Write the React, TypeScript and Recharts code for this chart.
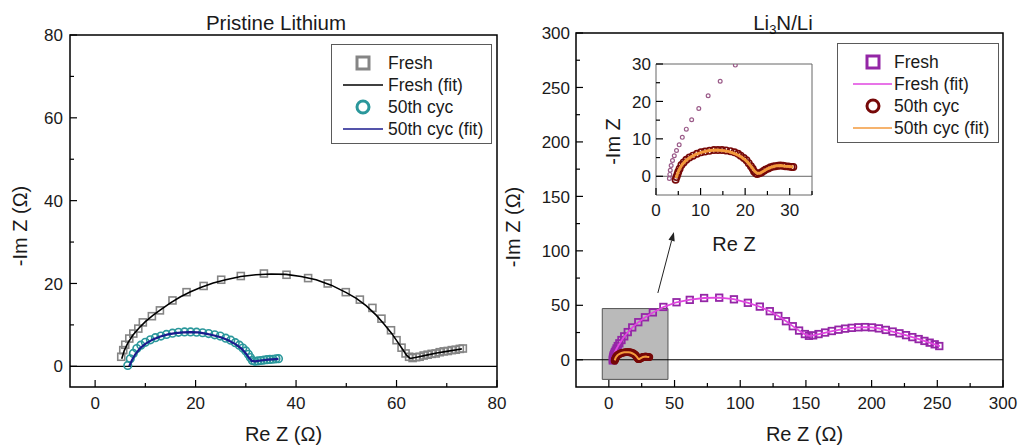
import React from 'react';
import { ScatterChart, Scatter, XAxis, YAxis, ReferenceLine, ReferenceArea } from 'recharts';

const FONT = '"Liberation Sans", Arial, sans-serif';
const INK = '#1a1a1a';

// Pristine Lithium panel
const pFreshX = [5.2, 5.6, 6.0, 6.8, 7.6, 8.6, 9.5, 11.3, 12.9, 15.4, 18.2, 21.6, 25.1, 29.0, 33.6, 38.1, 42.4, 46.3, 49.9, 52.7, 55.2, 57.0, 58.9, 60.0, 61.0, 61.8, 62.5, 63.2, 63.9, 64.6, 65.4, 66.2, 67.0, 67.8, 68.6, 69.4, 70.2, 71.0, 71.8, 72.6, 73.2];
const pFreshY = [2.3, 3.9, 5.2, 6.7, 7.9, 9.1, 10.6, 12.1, 13.5, 15.9, 17.9, 19.4, 20.9, 21.8, 22.4, 22.1, 21.3, 20.0, 17.9, 16.1, 14.1, 11.5, 8.7, 6.3, 4.5, 3.1, 2.3, 2.0, 2.2, 2.3, 2.6, 2.8, 3.0, 3.1, 3.4, 3.6, 3.7, 3.9, 4.0, 4.2, 4.3];
const pFreshFitX = [5.3, 5.8, 6.5, 7.5, 8.7, 10, 11.5, 13, 15, 17, 19, 21, 23.5, 26, 29, 32, 35, 38, 41, 44, 47, 50, 52, 54, 56, 57.5, 59, 60.2, 61.2, 62.0, 62.7, 64, 66, 68, 70, 72, 73];
const pFreshFitY = [1.8, 3.8, 5.6, 7.5, 9.2, 10.8, 12.3, 13.6, 15.3, 16.8, 18.0, 19.0, 20.1, 20.9, 21.7, 22.1, 22.3, 22.2, 21.7, 20.9, 19.6, 17.8, 16.4, 14.6, 12.3, 10.2, 8.0, 5.9, 4.1, 2.7, 1.9, 2.2, 2.7, 3.2, 3.6, 4.0, 4.2];
const pCycX = [6.5, 7.0, 7.6, 8.3, 9.1, 10.0, 11.0, 12.0, 13.1, 14.2, 15.4, 16.6, 17.8, 19.0, 20.2, 21.4, 22.6, 23.8, 24.9, 26.0, 27.0, 27.9, 28.7, 29.4, 30.0, 30.5, 30.9, 31.3, 31.8, 32.4, 33.0, 33.6, 34.2, 34.8, 35.4, 36.0, 36.5];
const pCycY = [0.2, 1.8, 3.1, 4.3, 5.1, 5.8, 6.4, 6.9, 7.3, 7.7, 8.0, 8.2, 8.3, 8.3, 8.25, 8.1, 7.9, 7.6, 7.3, 6.8, 6.3, 5.7, 5.1, 4.4, 3.7, 2.9, 2.1, 1.4, 1.2, 1.3, 1.4, 1.5, 1.6, 1.65, 1.7, 1.8, 1.85];
const pCycFitX = [6.8, 7.3, 8.0, 9.0, 10, 11.5, 13, 14.5, 16, 17.5, 19, 20.5, 22, 23.5, 25, 26.5, 28, 29.2, 30.0, 30.6, 31.2, 31.8, 33, 34.5, 36, 36.5];
const pCycFitY = [0.0, 1.4, 2.9, 4.4, 5.4, 6.5, 7.2, 7.7, 8.0, 8.2, 8.25, 8.2, 7.9, 7.5, 7.0, 6.3, 5.3, 4.2, 3.1, 2.1, 1.3, 1.2, 1.4, 1.6, 1.75, 1.8];
const pTicks = [0, 10, 20, 30, 40, 50, 60, 70, 80];
const pLabels = [0, 20, 40, 60, 80];

// Li3N/Li panel
const lFreshX = [3.0, 3.1, 3.2, 3.4, 3.7, 4.1, 4.6, 5.2, 5.9, 6.8, 8.0, 9.6, 11.7, 14.4, 17.8, 22.4, 27.5, 33.5, 41.5, 51.5, 61.6, 72.5, 84.0, 95.2, 105.8, 114.9, 122.5, 129.0, 134.8, 140.0, 144.8, 149.2, 152.3, 155.5, 159.6, 164.6, 169.7, 174.8, 179.8, 184.9, 189.9, 195.0, 200.3, 205.5, 210.8, 216.0, 221.2, 226.2, 231.0, 235.8, 240.2, 244.2, 248.0, 251.5];
const lFreshY = [-0.6, 0.5, 1.6, 2.9, 4.2, 5.5, 6.9, 8.4, 10.4, 12.6, 15.1, 18.1, 21.5, 25.4, 29.7, 34.5, 39.0, 43.5, 48.5, 52.8, 55.0, 56.7, 57.0, 55.5, 52.3, 48.8, 44.6, 40.2, 35.4, 30.8, 26.8, 23.6, 22.0, 22.4, 23.6, 25.0, 26.4, 27.6, 28.6, 29.3, 29.8, 30.0, 29.7, 28.8, 27.4, 25.9, 24.3, 22.6, 20.8, 19.0, 17.3, 15.7, 14.2, 12.6];
const lFreshFitX = [3.0, 3.1, 3.3, 3.6, 4.1, 4.8, 5.8, 7.2, 9.0, 11.5, 14.5, 18.0, 22.5, 28, 34, 41.5, 51.5, 62, 72.5, 84, 95, 106, 115, 122.5, 129, 135, 140, 145, 149.5, 152.5, 155.5, 160, 170, 180, 190, 195, 200, 206, 211, 216, 221, 226, 231, 236, 240, 244, 248, 252];
const lFreshFitY = [-0.6, 0.8, 2.3, 3.8, 5.5, 7.4, 9.9, 13.0, 16.4, 20.8, 25.3, 29.8, 34.5, 39.3, 43.6, 48.3, 52.8, 55.2, 56.7, 57.0, 55.6, 52.3, 48.7, 44.6, 40.2, 35.3, 30.9, 26.7, 23.3, 22.0, 22.3, 23.6, 26.4, 28.6, 29.8, 30.0, 29.8, 28.7, 27.3, 25.9, 24.3, 22.6, 20.8, 18.9, 17.3, 15.8, 14.2, 12.5];
const lCycX = [4.4, 4.6, 4.8, 5.0, 5.3, 5.7, 6.2, 6.8, 7.5, 8.3, 9.2, 10.1, 11.0, 12.0, 13.0, 13.9, 14.8, 15.7, 16.7, 17.6, 18.4, 19.0, 19.7, 20.3, 20.8, 21.3, 21.7, 22.0, 22.4, 22.7, 23.2, 23.7, 24.2, 24.6, 25.2, 25.7, 26.3, 26.8, 27.4, 27.9, 28.5, 29.0, 29.7, 30.4, 30.8];
const lCycY = [-0.9, -0.2, 0.5, 1.2, 2.0, 3.0, 3.7, 4.4, 5.0, 5.5, 6.0, 6.4, 6.6, 6.8, 7.0, 7.0, 7.0, 6.9, 6.7, 6.4, 6.0, 5.5, 4.9, 4.3, 3.5, 2.7, 2.0, 1.3, 0.8, 0.6, 0.8, 1.1, 1.5, 1.8, 2.1, 2.4, 2.6, 2.7, 2.8, 2.9, 2.8, 2.7, 2.6, 2.5, 2.5];
const lCycFitX = [4.5, 4.8, 5.2, 5.8, 6.6, 7.6, 8.8, 10.2, 11.7, 13.3, 14.9, 16.4, 17.8, 19.0, 20.0, 20.8, 21.5, 22.1, 22.7, 23.3, 24.0, 25.0, 26.0, 27.0, 28.0, 29.0, 30.0, 30.8];
const lCycFitY = [-0.5, 0.6, 1.8, 3.0, 4.1, 5.0, 5.8, 6.4, 6.8, 7.0, 6.9, 6.6, 6.0, 5.3, 4.4, 3.4, 2.4, 1.4, 0.8, 0.8, 1.3, 2.0, 2.5, 2.8, 2.9, 2.7, 2.6, 2.5];
const lTicks = [0, 25, 50, 75, 100, 125, 150, 175, 200, 225, 250, 275, 300];
const lLabels = [0, 50, 100, 150, 200, 250, 300];

// inset + zoom annotation
const insetXTicks = [0, 5, 10, 15, 20, 25, 30, 35];
const insetYTicks = [0, 5, 10, 15, 20, 25, 30];
const insetLabels = [0, 10, 20, 30];
const zoomBoxX = [-5, 45];
const zoomBoxY = [-18, 47];
const arrowFrom = { x: 37.3, y: 61.3 };
const arrowTo = { x: 49.5, y: 117.4 };

const zip = (xs: number[], ys: number[]) => xs.map((x, i) => ({ x, y: ys[i] }));

const C = {
  gray: '#858585',
  teal: '#2a979b',
  navy: '#1b1b8e',
  purple: '#9426a6',
  magenta: '#e046e0',
  maroon: '#760808',
  orange: '#f39a3c',
};

function xTick(labels: number[], gap = 22) {
  return (props: any) => {
    const { x, y, payload } = props;
    const on = labels.includes(payload.value);
    return (
      <g>
        <line x1={x} x2={x} y1={y} y2={y - (on ? 7 : 4)} stroke="#000" strokeWidth={1.2} />
        {on && (
          <text x={x} y={y + gap} textAnchor="middle" fontSize={17} fill={INK} fontFamily={FONT}>
            {payload.value}
          </text>
        )}
      </g>
    );
  };
}

function yTick(labels: number[], gap = 7) {
  return (props: any) => {
    const { x, y, payload } = props;
    const on = labels.includes(payload.value);
    return (
      <g>
        <line x1={x} x2={x + (on ? 7 : 4)} y1={y} y2={y} stroke="#000" strokeWidth={1.2} />
        {on && (
          <text x={x - gap} y={y} dy="0.36em" textAnchor="end" fontSize={17} fill={INK} fontFamily={FONT}>
            {payload.value}
          </text>
        )}
      </g>
    );
  };
}

const AxisTitle = (props: any) => {
  const { viewBox, text, dx = 0, dy = 0, vertical = false, size = 20 } = props;
  const cx = viewBox.x + viewBox.width / 2 + dx;
  const cy = viewBox.y + viewBox.height / 2 + dy;
  return (
    <text
      x={cx}
      y={cy}
      dy="0.35em"
      textAnchor="middle"
      fontSize={size}
      fill={INK}
      fontFamily={FONT}
      transform={vertical ? `rotate(-90 ${cx} ${cy})` : undefined}
    >
      {text}
    </text>
  );
};

const square = (s: number, stroke: string, sw: number) => (p: any) => (
  <rect x={p.cx - s / 2} y={p.cy - s / 2} width={s} height={s} fill="none" stroke={stroke} strokeWidth={sw} />
);
const ring = (r: number, stroke: string, sw: number) => (p: any) => (
  <circle cx={p.cx} cy={p.cy} r={r} fill="none" stroke={stroke} strokeWidth={sw} />
);
const noDot = () => <g />;

const Arrow = (p: any) => {
  const { x1, y1, x2, y2 } = p;
  const a = Math.atan2(y2 - y1, x2 - x1);
  const L = 9;
  const W = 3.2;
  const bx = x2 - L * Math.cos(a);
  const by = y2 - L * Math.sin(a);
  const pts = `${x2},${y2} ${bx - W * Math.sin(a)},${by + W * Math.cos(a)} ${bx + W * Math.sin(a)},${by - W * Math.cos(a)}`;
  return (
    <g>
      <line x1={x1} y1={y1} x2={bx} y2={by} stroke="#222" strokeWidth={1} />
      <polygon points={pts} fill="#222" />
    </g>
  );
};

type Item = { label: string; kind: 'square' | 'circle' | 'line'; color: string };

function LegendBox({ left, top, width, symX, items }: { left: number; top: number; width: number; symX: number; items: Item[] }) {
  return (
    <div
      style={{
        position: 'absolute',
        left,
        top,
        width,
        height: 100,
        border: '1px solid #5a5a5a',
        background: '#fff',
        boxSizing: 'border-box',
        fontFamily: FONT,
      }}
    >
      {items.map((it, i) => (
        <div key={it.label} style={{ position: 'absolute', left: 0, top: 7 + i * 22, height: 22, display: 'flex', alignItems: 'center' }}>
          <svg width={54} height={22} style={{ display: 'block' }}>
            {it.kind === 'square' && <rect x={symX - 6} y={5} width={12} height={12} fill="none" stroke={it.color} strokeWidth={3} />}
            {it.kind === 'circle' && <circle cx={symX} cy={11} r={6} fill="none" stroke={it.color} strokeWidth={3} />}
            {it.kind === 'line' && <line x1={symX - 20} x2={symX + 20} y1={11} y2={11} stroke={it.color} strokeWidth={1.5} />}
          </svg>
          <span style={{ fontSize: 17.5, color: INK, marginLeft: 2, lineHeight: '22px', whiteSpace: 'nowrap' }}>{it.label}</span>
        </div>
      ))}
    </div>
  );
}

export default function App() {
  return (
    <div style={{ position: 'absolute', left: 0, top: 0, width: 1019, height: 446, background: '#fff', overflow: 'hidden', fontFamily: FONT }}>
      <div style={{ position: 'absolute', left: 126, top: 11, width: 300, textAlign: 'center', fontSize: 20.5, lineHeight: '24px', color: INK }}>
        Pristine Lithium
      </div>
      <div style={{ position: 'absolute', left: 633, top: 11, width: 300, textAlign: 'center', fontSize: 20.5, lineHeight: '24px', color: INK }}>
        Li<sub style={{ fontSize: 13, verticalAlign: '-4px', lineHeight: 0 }}>3</sub>N/Li
      </div>

      <div style={{ position: 'absolute', left: 0, top: 0 }}>
        <ScatterChart width={510} height={446} margin={{ top: 35, right: 13, bottom: 58, left: 69 }}>
          <XAxis
            type="number"
            dataKey="x"
            domain={[-5, 80]}
            ticks={pTicks}
            interval={0}
            allowDataOverflow
            height={1}
            tickSize={0}
            tickMargin={0}
            tickLine={false}
            axisLine={false}
            tick={xTick(pLabels)}
            label={<AxisTitle text="Re Z (Ω)" dy={46} />}
          />
          <YAxis
            type="number"
            dataKey="y"
            domain={[-5, 80]}
            ticks={pTicks}
            interval={0}
            allowDataOverflow
            width={1}
            tickSize={0}
            tickMargin={0}
            tickLine={false}
            axisLine={false}
            tick={yTick(pLabels)}
            label={<AxisTitle text="-Im Z (Ω)" vertical dx={-50} dy={15} />}
          />
          <ReferenceArea x1={-5} x2={80} y1={-5} y2={80} fill="none" stroke="#000" strokeWidth={1.5} />
          <ReferenceLine y={0} stroke="#000" strokeWidth={1.2} />
          <Scatter data={zip(pFreshX, pFreshY)} shape={square(7, C.gray, 1.6)} isAnimationActive={false} />
          <Scatter data={zip(pFreshFitX, pFreshFitY)} shape={noDot} line={{ stroke: '#000', strokeWidth: 1.6 }} isAnimationActive={false} />
          <Scatter data={zip(pCycX, pCycY)} shape={ring(3.8, C.teal, 1.6)} isAnimationActive={false} />
          <Scatter data={zip(pCycFitX, pCycFitY)} shape={noDot} line={{ stroke: C.navy, strokeWidth: 2.2 }} isAnimationActive={false} />
        </ScatterChart>
      </div>

      <div style={{ position: 'absolute', left: 490, top: 0 }}>
        <ScatterChart width={529} height={446} margin={{ top: 33, right: 16, bottom: 58, left: 85 }}>
          <XAxis
            type="number"
            dataKey="x"
            domain={[-25, 300]}
            ticks={lTicks}
            interval={0}
            allowDataOverflow
            height={1}
            tickSize={0}
            tickMargin={0}
            tickLine={false}
            axisLine={false}
            tick={xTick(lLabels)}
            label={<AxisTitle text="Re Z (Ω)" dx={15} dy={46} />}
          />
          <YAxis
            type="number"
            dataKey="y"
            domain={[-25, 300]}
            ticks={lTicks}
            interval={0}
            allowDataOverflow
            width={1}
            tickSize={0}
            tickMargin={0}
            tickLine={false}
            axisLine={false}
            tick={yTick(lLabels, 6)}
            label={<AxisTitle text="-Im Z (Ω)" vertical dx={-63} dy={17} />}
          />
          <ReferenceArea x1={-25} x2={300} y1={-25} y2={300} fill="none" stroke="#000" strokeWidth={1.5} />
          <ReferenceArea x1={zoomBoxX[0]} x2={zoomBoxX[1]} y1={zoomBoxY[0]} y2={zoomBoxY[1]} fill="#bababa" fillOpacity={1} stroke="#555" strokeWidth={1} />
          <ReferenceLine y={0} stroke="#000" strokeWidth={1.2} />
          <ReferenceLine segment={[arrowFrom, arrowTo]} shape={Arrow} />
          <Scatter data={zip(lFreshX, lFreshY)} shape={square(6.5, C.purple, 1.8)} isAnimationActive={false} />
          <Scatter data={zip(lFreshFitX, lFreshFitY)} shape={noDot} line={{ stroke: C.magenta, strokeWidth: 1.8 }} isAnimationActive={false} />
          <Scatter data={zip(lCycX, lCycY)} shape={ring(3, C.maroon, 1.8)} isAnimationActive={false} />
          <Scatter data={zip(lCycFitX, lCycFitY)} shape={noDot} line={{ stroke: C.orange, strokeWidth: 2 }} isAnimationActive={false} />
        </ScatterChart>
      </div>

      <div style={{ position: 'absolute', left: 600, top: 30 }}>
        <ScatterChart width={230} height={230} margin={{ top: 34, right: 18, bottom: 64, left: 55 }}>
          <XAxis
            type="number"
            dataKey="x"
            domain={[0, 35]}
            ticks={insetXTicks}
            interval={0}
            allowDataOverflow
            height={1}
            tickSize={0}
            tickMargin={0}
            tickLine={false}
            axisLine={false}
            tick={xTick(insetLabels, 21)}
            label={<AxisTitle text="Re Z" dy={48} />}
          />
          <YAxis
            type="number"
            dataKey="y"
            domain={[-5, 30]}
            ticks={insetYTicks}
            interval={0}
            allowDataOverflow
            width={1}
            tickSize={0}
            tickMargin={0}
            tickLine={false}
            axisLine={false}
            tick={yTick(insetLabels, 5)}
            label={<AxisTitle text="-Im Z" vertical dx={-43} dy={12} />}
          />
          <ReferenceArea x1={0} x2={35} y1={-5} y2={30} fill="#fff" fillOpacity={1} stroke="#666" strokeWidth={1} />
          <ReferenceLine y={0} stroke="#666" strokeWidth={1} />
          <Scatter data={zip(lFreshX, lFreshY)} shape={ring(1.9, '#9a5a88', 1.2)} isAnimationActive={false} />
          <Scatter data={zip(lCycX, lCycY)} shape={ring(3.2, C.maroon, 1.6)} isAnimationActive={false} />
          <Scatter data={zip(lCycFitX, lCycFitY)} shape={noDot} line={{ stroke: C.orange, strokeWidth: 3 }} isAnimationActive={false} />
        </ScatterChart>
      </div>

      <LegendBox
        left={331}
        top={44}
        width={161}
        symX={31}
        items={[
          { label: 'Fresh', kind: 'square', color: C.gray },
          { label: 'Fresh (fit)', kind: 'line', color: '#000' },
          { label: '50th cyc', kind: 'circle', color: C.teal },
          { label: '50th cyc (fit)', kind: 'line', color: C.navy },
        ]}
      />
      <LegendBox
        left={837}
        top={43}
        width={162}
        symX={35}
        items={[
          { label: 'Fresh', kind: 'square', color: C.purple },
          { label: 'Fresh (fit)', kind: 'line', color: C.magenta },
          { label: '50th cyc', kind: 'circle', color: C.maroon },
          { label: '50th cyc (fit)', kind: 'line', color: C.orange },
        ]}
      />
    </div>
  );
}
